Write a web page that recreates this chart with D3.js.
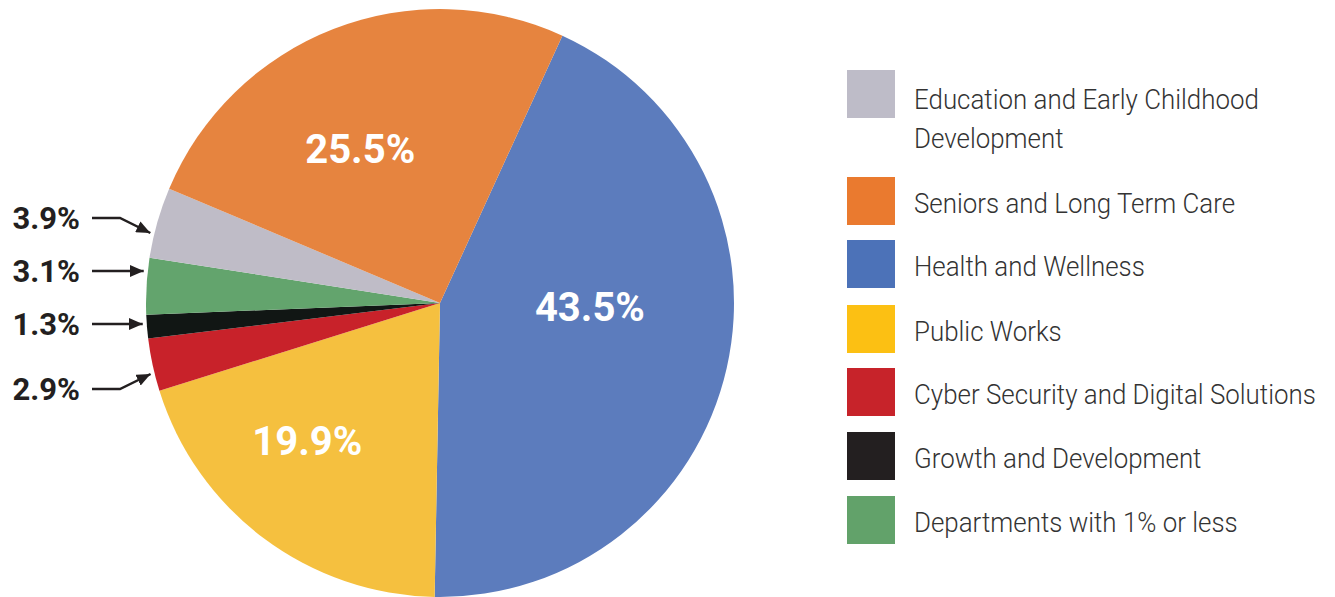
<!DOCTYPE html>
<html><head><meta charset="utf-8">
<script src="https://cdn.jsdelivr.net/npm/d3@7"></script>
<style>body{margin:0;background:#fff;} svg{display:block;}</style>
</head><body>
<svg id="chart" width="1335" height="597"></svg>
<script>
// ---- data ----
const categories = ["Health and Wellness","Public Works","Cyber Security and Digital Solutions","Growth and Development","Departments with 1% or less","Education and Early Childhood Development","Seniors and Long Term Care"];
const values = [43.5, 19.9, 2.9, 1.3, 3.1, 3.9, 25.5];
const valueLabels = ["43.5%","19.9%","2.9%","1.3%","3.1%","3.9%","25.5%"];
const legendOrder = ["Education and Early Childhood Development","Seniors and Long Term Care","Health and Wellness","Public Works","Cyber Security and Digital Solutions","Growth and Development","Departments with 1% or less"];
const legendLines = [["Education and Early Childhood","Development"],["Seniors and Long Term Care"],["Health and Wellness"],["Public Works"],["Cyber Security and Digital Solutions"],["Growth and Development"],["Departments with 1% or less"]];

// ---- styles ----
const pieColors = {"Health and Wellness":"#5C7CBD","Public Works":"#F5C03F","Cyber Security and Digital Solutions":"#C8222A","Growth and Development":"#111614","Departments with 1% or less":"#63A46D","Education and Early Childhood Development":"#BFBCC7","Seniors and Long Term Care":"#E6843F"};
const legendColors = {"Health and Wellness":"#4C72B8","Public Works":"#FCC013","Cyber Security and Digital Solutions":"#C7232A","Growth and Development":"#231F20","Departments with 1% or less":"#62A26A","Education and Early Childhood Development":"#BEBCC8","Seniors and Long Term Care":"#EA7A2F"};

const cx = 440, cy = 303, R = 294;
const rad = d => d * Math.PI / 180;
const start = rad(24.6);

const svg = d3.select("#chart");
const g = svg.append("g").attr("transform", `translate(${cx},${cy})`);

const data = categories.map((c,i)=>({cat:c, value:values[i], label:valueLabels[i]}));
const pie = d3.pie().value(d=>d.value).sort(null).startAngle(start).endAngle(start + 2*Math.PI);
const arcs = pie(data);
const arc = d3.arc().innerRadius(0).outerRadius(R);

g.selectAll("path.slice").data(arcs).enter().append("path")
  .attr("class","slice").attr("d",arc).attr("fill",d=>pieColors[d.data.cat]);

// inside labels (polar placement: angle deg, radius)
const insidePlace = {"Health and Wellness":[91.5,150],"Public Works":[224,191],"Seniors and Long Term Care":[332.7,174]};
arcs.filter(a=>insidePlace[a.data.cat]).forEach(a=>{
  const [ang, r] = insidePlace[a.data.cat];
  const x = r*Math.sin(rad(ang)), y = -r*Math.cos(rad(ang));
  g.append("text").attr("x",x).attr("y",y).attr("dy","0.355em")
    .attr("text-anchor","middle").attr("fill","#fff")
    .style("font-family","Roboto").style("font-weight","700").style("font-size","40px")
    .text(a.data.label);
});

// outside labels with arrows
svg.append("defs").append("marker").attr("id","ah")
  .attr("viewBox","0 0 14 12").attr("refX",14).attr("refY",6)
  .attr("markerWidth",14).attr("markerHeight",12).attr("markerUnits","userSpaceOnUse")
  .attr("orient","auto")
  .append("path").attr("d","M0,0 L14,6 L0,12 Z").attr("fill","#231F20");

const outsidePlace = {"Education and Early Childhood Development":[218,233],"Departments with 1% or less":[271,271],"Growth and Development":[324,324],"Cyber Security and Digital Solutions":[389,374]};
arcs.filter(a=>outsidePlace[a.data.cat]).forEach(a=>{
  const [ly, ty] = outsidePlace[a.data.cat];
  const rr = R + 4;
  const tx = cx - Math.sqrt(rr*rr - (ty-cy)*(ty-cy));
  svg.append("text").attr("x",80).attr("y",ly).attr("dy","0.355em")
    .attr("text-anchor","end").attr("fill","#231F20")
    .style("font-family","Roboto").style("font-weight","700").style("font-size","31px")
    .text(a.data.label);
  const pts = ly===ty ? [[92,ly],[tx,ty]] : [[92,ly],[120,ly],[tx,ty]];
  svg.append("path").attr("d",d3.line()(pts)).attr("fill","none")
    .attr("stroke","#231F20").attr("stroke-width",2.5).attr("marker-end","url(#ah)");
});

// legend
const legY = [70,177,240,305,368,432,496];
const lg = svg.append("g");
legendOrder.forEach((c,i)=>{
  const y = legY[i];
  lg.append("rect").attr("x",847).attr("y",y).attr("width",48).attr("height",48).attr("fill",legendColors[c]);
  const lines = legendLines[i];
  lines.forEach((t,j)=>{
    const ty = lines.length>1 ? y+39+j*39 : y+36;
    lg.append("text").attr("transform",`translate(914,${ty}) scale(0.925,1)`)
      .attr("fill","#333").style("font-family","Roboto").style("font-weight","300").style("font-size","28px")
      .text(t);
  });
});
</script>
</body></html>
